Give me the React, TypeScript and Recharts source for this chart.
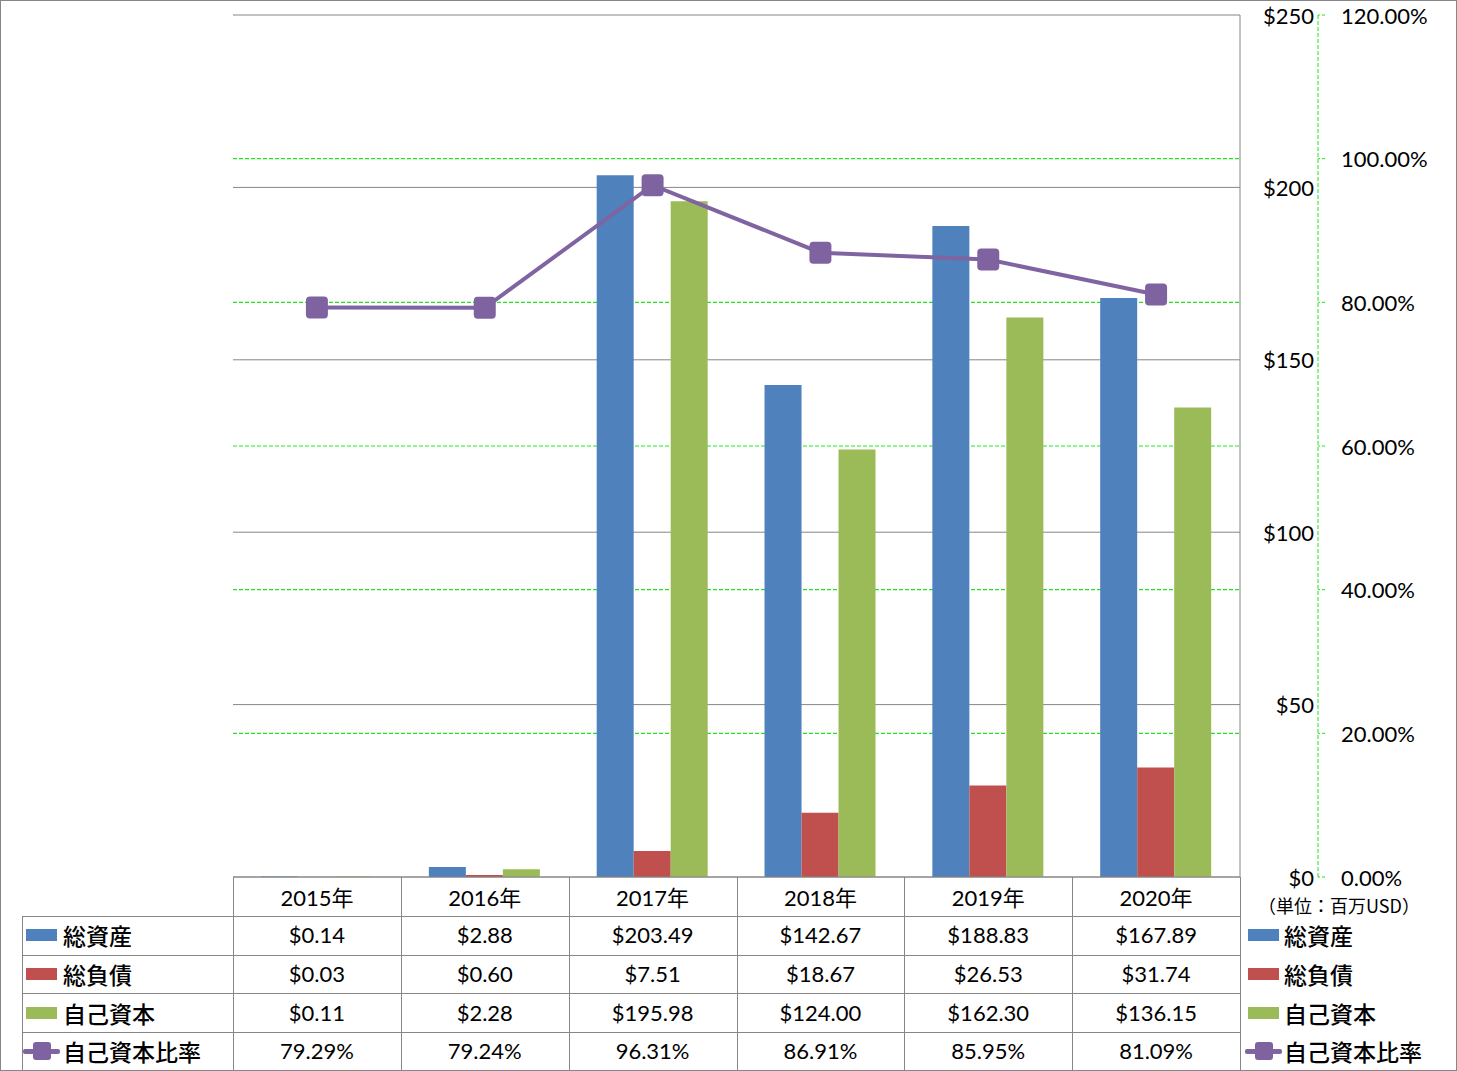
import React from "react";
import { Bar, CartesianGrid, ComposedChart, Line, XAxis, YAxis } from "recharts";

if (typeof document !== "undefined") document.body.style.margin = "0";

const years = ["2015年", "2016年", "2017年", "2018年", "2019年", "2020年"];
const totalAssets = [0.14, 2.88, 203.49, 142.67, 188.83, 167.89];
const totalLiabilities = [0.03, 0.6, 7.51, 18.67, 26.53, 31.74];
const equity = [0.11, 2.28, 195.98, 124.0, 162.3, 136.15];
const equityRatio = [79.29, 79.24, 96.31, 86.91, 85.95, 81.09];
const usdTicks = [0, 50, 100, 150, 200, 250];
const pctTicks = [0, 20, 40, 60, 80, 100, 120];

const BLUE = "#4F81BD";
const RED = "#C0504D";
const GREEN = "#9BBB59";
const PURPLE = "#8064A2";
const GRID = "#868686";
const DASH_GREEN = "#1ee61e";
const FONT = "Lato, 'Noto Sans CJK JP', sans-serif";
const JP = "'Noto Sans CJK JP', sans-serif";

// axis ids: recharts stacks right-hand axes in id order, so the $ axis sorts first
const USD = "a_usd";
const PCT = "b_pct";

const data = years.map((year, i) => ({
  year,
  assets: totalAssets[i],
  liabilities: totalLiabilities[i],
  equity: equity[i],
  ratio: equityRatio[i]
}));

const PLOT_LEFT = 233;
const PLOT_RIGHT = 1240;
const COL_W = (PLOT_RIGHT - PLOT_LEFT) / years.length;
const TABLE_TOP = 916;
const ROW_H = 38.6;

const money = (v: number) => `$${v.toFixed(2)}`;
const pct = (v: number) => `${v.toFixed(2)}%`;

const rows = [
  { label: "総資産", kind: "bar", color: BLUE, values: totalAssets.map(money) },
  { label: "総負債", kind: "bar", color: RED, values: totalLiabilities.map(money) },
  { label: "自己資本", kind: "bar", color: GREEN, values: equity.map(money) },
  { label: "自己資本比率", kind: "line", color: PURPLE, values: equityRatio.map(pct) }
];

function UsdTick(props: any) {
  const { x, y, payload } = props;
  return (
    <text x={x + 74} y={y} textAnchor="end" dominantBaseline="central" fontSize={22} fontFamily={FONT} fill="#000">
      ${payload.value}
    </text>
  );
}

function PctTick(props: any) {
  const { x, y, payload } = props;
  return (
    <text x={x + 16} y={y} textAnchor="start" dominantBaseline="central" fontSize={22} fontFamily={FONT} fill="#000">
      {pct(payload.value)}
    </text>
  );
}

function YearTick(props: any) {
  const { x, y, payload } = props;
  return (
    <text x={x} y={y + 20} textAnchor="middle" dominantBaseline="central" fontSize={22} fontFamily={FONT} fill="#000">
      {payload.value}
    </text>
  );
}

function SquareDot(props: any) {
  const { cx, cy, index } = props;
  return <rect key={index} x={cx - 11} y={cy - 11} width={22} height={22} rx={4} fill="#7f63a1" />;
}

function LegendKey({ kind, color, x, y }: { kind: string; color: string; x: number; y: number }) {
  if (kind === "bar") {
    return <div style={{ position: "absolute", left: x, top: y - 6, width: 31, height: 12, background: color }} />;
  }
  return (
    <>
      <div style={{ position: "absolute", left: x - 3, top: y - 2.5, width: 37, height: 5, background: color, borderRadius: 2 }} />
      <div style={{ position: "absolute", left: x + 7, top: y - 9, width: 18, height: 18, background: "#7f63a1", borderRadius: 3 }} />
    </>
  );
}

function DataTable() {
  const lines: React.ReactNode[] = [];
  // vertical lines
  for (let i = 0; i <= years.length; i++) {
    lines.push(
      <div key={`v${i}`} style={{ position: "absolute", left: PLOT_LEFT + i * COL_W, top: 877, width: 1, height: 1070 - 877, background: GRID }} />
    );
  }
  lines.push(<div key="vl" style={{ position: "absolute", left: 22, top: TABLE_TOP, width: 1, height: 1070 - TABLE_TOP, background: GRID }} />);
  for (let r = 0; r < rows.length; r++) {
    lines.push(
      <div key={`h${r}`} style={{ position: "absolute", left: 22, top: TABLE_TOP + r * ROW_H, width: PLOT_RIGHT - 22, height: 1, background: GRID }} />
    );
  }
  return (
    <>
      {lines}
      {rows.map((row, r) => {
        const cy = TABLE_TOP + r * ROW_H + ROW_H / 2;
        return (
          <React.Fragment key={row.label}>
            <LegendKey kind={row.kind} color={row.color} x={26} y={cy} />
            <div style={{ position: "absolute", left: 63, top: cy - 16, height: 32, lineHeight: "32px", fontSize: 23, fontWeight: 500, fontFamily: JP, color: "#000", whiteSpace: "nowrap" }}>
              {row.label}
            </div>
            {row.values.map((v, i) => (
              <div
                key={i}
                style={{
                  position: "absolute",
                  left: PLOT_LEFT + i * COL_W,
                  width: COL_W,
                  top: cy - 16,
                  height: 32,
                  lineHeight: "32px",
                  textAlign: "center",
                  fontSize: 22,
                  fontFamily: FONT,
                  color: "#000"
                }}
              >
                {v}
              </div>
            ))}
            <LegendKey kind={row.kind} color={row.color} x={1248} y={cy} />
            <div style={{ position: "absolute", left: 1284, top: cy - 16, height: 32, lineHeight: "32px", fontSize: 23, fontWeight: 500, fontFamily: JP, color: "#000", whiteSpace: "nowrap" }}>
              {row.label}
            </div>
          </React.Fragment>
        );
      })}
      <div style={{ position: "absolute", left: 1258, top: 892, fontSize: 18, lineHeight: "26px", fontFamily: JP, color: "#000", whiteSpace: "nowrap" }}>
        （単位：百万USD）
      </div>
    </>
  );
}

export default function App() {
  return (
    <div style={{ position: "relative", width: 1457, height: 1071, background: "#fff", overflow: "hidden" }}>
      <ComposedChart
        width={1457}
        height={916}
        data={data}
        margin={{ top: 15, right: 0, bottom: 0, left: PLOT_LEFT }}
        barCategoryGap="16.7%"
        barGap={0}
      >
        {/* green dashed % lines only between the ends; top and bottom belong to the $ grid / x axis */}
        <CartesianGrid yAxisId={PCT} vertical={false} stroke={DASH_GREEN} strokeWidth={1.2} strokeDasharray="4 2" horizontalValues={pctTicks.slice(1, -1)} />
        <CartesianGrid yAxisId={USD} vertical={false} stroke={GRID} horizontalValues={usdTicks} />
        <XAxis
          dataKey="year"
          height={39}
          axisLine={{ stroke: GRID }}
          tickLine={false}
          tickSize={0}
          tickMargin={0}
          tick={<YearTick />}
          interval={0}
        />
        <YAxis
          yAxisId={USD}
          orientation="right"
          width={78}
          domain={[0, 250]}
          ticks={usdTicks}
          axisLine={{ stroke: GRID }}
          tickLine={false}
          tickSize={0}
          tickMargin={0}
          tick={<UsdTick />}
          interval={0}
        />
        <YAxis
          yAxisId={PCT}
          orientation="right"
          width={139}
          domain={[0, 120]}
          ticks={pctTicks}
          axisLine={{ stroke: DASH_GREEN, strokeDasharray: "4 2" }}
          tickLine={{ stroke: DASH_GREEN, strokeDasharray: "3 2" }}
          tickSize={7}
          tickMargin={0}
          tick={<PctTick />}
          interval={0}
        />
        <Bar yAxisId={USD} dataKey="assets" name="総資産" fill={BLUE} isAnimationActive={false} />
        <Bar yAxisId={USD} dataKey="liabilities" name="総負債" fill={RED} isAnimationActive={false} />
        <Bar yAxisId={USD} dataKey="equity" name="自己資本" fill={GREEN} isAnimationActive={false} />
        <Line
          yAxisId={PCT}
          dataKey="ratio"
          name="自己資本比率"
          type="linear"
          stroke={PURPLE}
          strokeWidth={4}
          dot={<SquareDot />}
          activeDot={false}
          isAnimationActive={false}
        />
      </ComposedChart>
      <DataTable />
      <div style={{ position: "absolute", left: 0, top: 0, width: 1455, height: 1069, border: `1px solid ${GRID}`, pointerEvents: "none" }} />
    </div>
  );
}
